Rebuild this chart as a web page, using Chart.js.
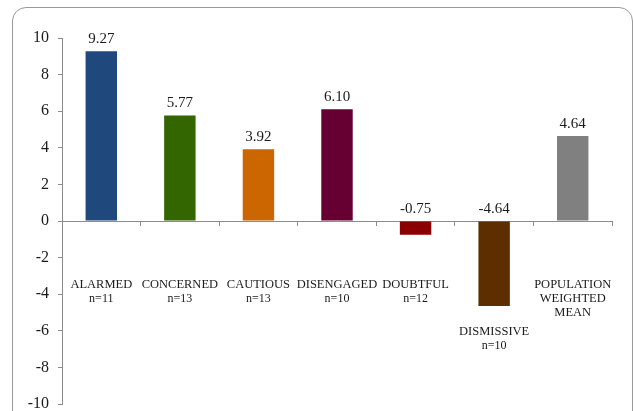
<!DOCTYPE html>
<html>
<head>
<meta charset="utf-8">
<script src="https://cdn.jsdelivr.net/npm/chart.js@4/dist/chart.umd.min.js"></script>
<style>
  html, body { margin: 0; padding: 0; background: #fff; overflow: hidden; width: 633px; height: 411px; }
  #frame { position: absolute; left: 12px; top: 7px; width: 621px; height: 440px; box-sizing: border-box;
           border: 1px solid #9a9a9a; border-radius: 14px; }
  #chart { position: absolute; left: 0; top: 0; }
</style>
</head>
<body>
<div id="frame"></div>
<canvas id="chart" width="633" height="430"></canvas>
<script>
const categories = [['ALARMED'], ['CONCERNED'], ['CAUTIOUS'], ['DISENGAGED'], ['DOUBTFUL'], ['DISMISSIVE'], ['POPULATION', 'WEIGHTED', 'MEAN']];
const sampleSizes = ['n=11', 'n=13', 'n=13', 'n=10', 'n=12', 'n=10', null];
const scores = [9.27, 5.77, 3.92, 6.10, -0.75, -4.64, 4.64];
const barColors = ['#1f497d', '#336600', '#cc6600', '#660033', '#8b0000', '#5c2e00', '#808080'];
const yTicks = [-10, -8, -6, -4, -2, 0, 2, 4, 6, 8, 10];

const serif = 'Liberation Serif';

// value labels above bars (negative ones sit above the zero line)
const valueLabels = {
  id: 'valueLabels',
  afterDatasetsDraw(chart) {
    const ctx = chart.ctx;
    const y = chart.scales.y;
    const zero = y.getPixelForValue(0);
    ctx.save();
    ctx.font = '15px "' + serif + '"';
    ctx.fillStyle = '#1a1a1a';
    ctx.textAlign = 'center';
    ctx.textBaseline = 'alphabetic';
    chart.getDatasetMeta(0).data.forEach((bar, i) => {
      const v = scores[i];
      const top = v >= 0 ? bar.y : zero;
      ctx.fillText(v.toFixed(2), bar.x, top - 8);
    });
    ctx.restore();
  }
};

// category names drawn under the zero line, pushed below negative bars
const categoryLabels = {
  id: 'categoryLabels',
  afterDraw(chart) {
    const ctx = chart.ctx;
    const y = chart.scales.y;
    const x = chart.scales.x;
    const fixed = y.getPixelForValue(-3.5);
    ctx.save();
    ctx.fillStyle = '#1a1a1a';
    ctx.textAlign = 'center';
    ctx.textBaseline = 'middle';
    categories.forEach((lines, i) => {
      const cx = x.getPixelForValue(i);
      const barEnd = y.getPixelForValue(Math.min(scores[i], 0));
      let ly = Math.max(fixed, barEnd + 26);
      ctx.font = '12.5px "' + serif + '"';
      lines.forEach(t => { ctx.fillText(t, cx, ly); ly += 14; });
      if (sampleSizes[i]) {
        ctx.font = '12px "' + serif + '"';
        ctx.fillText(sampleSizes[i], cx, ly);
      }
    });
    ctx.restore();
  }
};

new Chart(document.getElementById('chart'), {
  type: 'bar',
  data: {
    labels: categories.map(c => c.join(' ')),
    datasets: [{
      data: scores,
      backgroundColor: barColors,
      borderWidth: 0,
      categoryPercentage: 1,
      barPercentage: 0.4
    }]
  },
  options: {
    responsive: false,
    devicePixelRatio: 1,
    animation: false,
    layout: { padding: { left: 0, right: 21, top: 38, bottom: 26 } },
    plugins: { legend: { display: false }, tooltip: { enabled: false } },
    scales: {
      x: {
        position: { y: 0 },
        offset: true,
        grid: { offset: true, drawOnChartArea: false, drawTicks: true, tickLength: 4, color: '#8c8c8c' },
        border: { display: true, color: '#8c8c8c' },
        ticks: { display: false }
      },
      y: {
        min: -10,
        max: 10,
        afterFit(axis) { axis.width = 62; },
        afterBuildTicks(axis) { axis.ticks = yTicks.map(v => ({ value: v })); },
        grid: { drawOnChartArea: false, drawTicks: true, tickLength: 4, color: '#8c8c8c' },
        border: { display: true, color: '#8c8c8c' },
        ticks: {
          padding: 9,
          color: '#1a1a1a',
          font: { family: serif, size: 16 }
        }
      }
    }
  },
  plugins: [valueLabels, categoryLabels]
});
</script>
</body>
</html>
